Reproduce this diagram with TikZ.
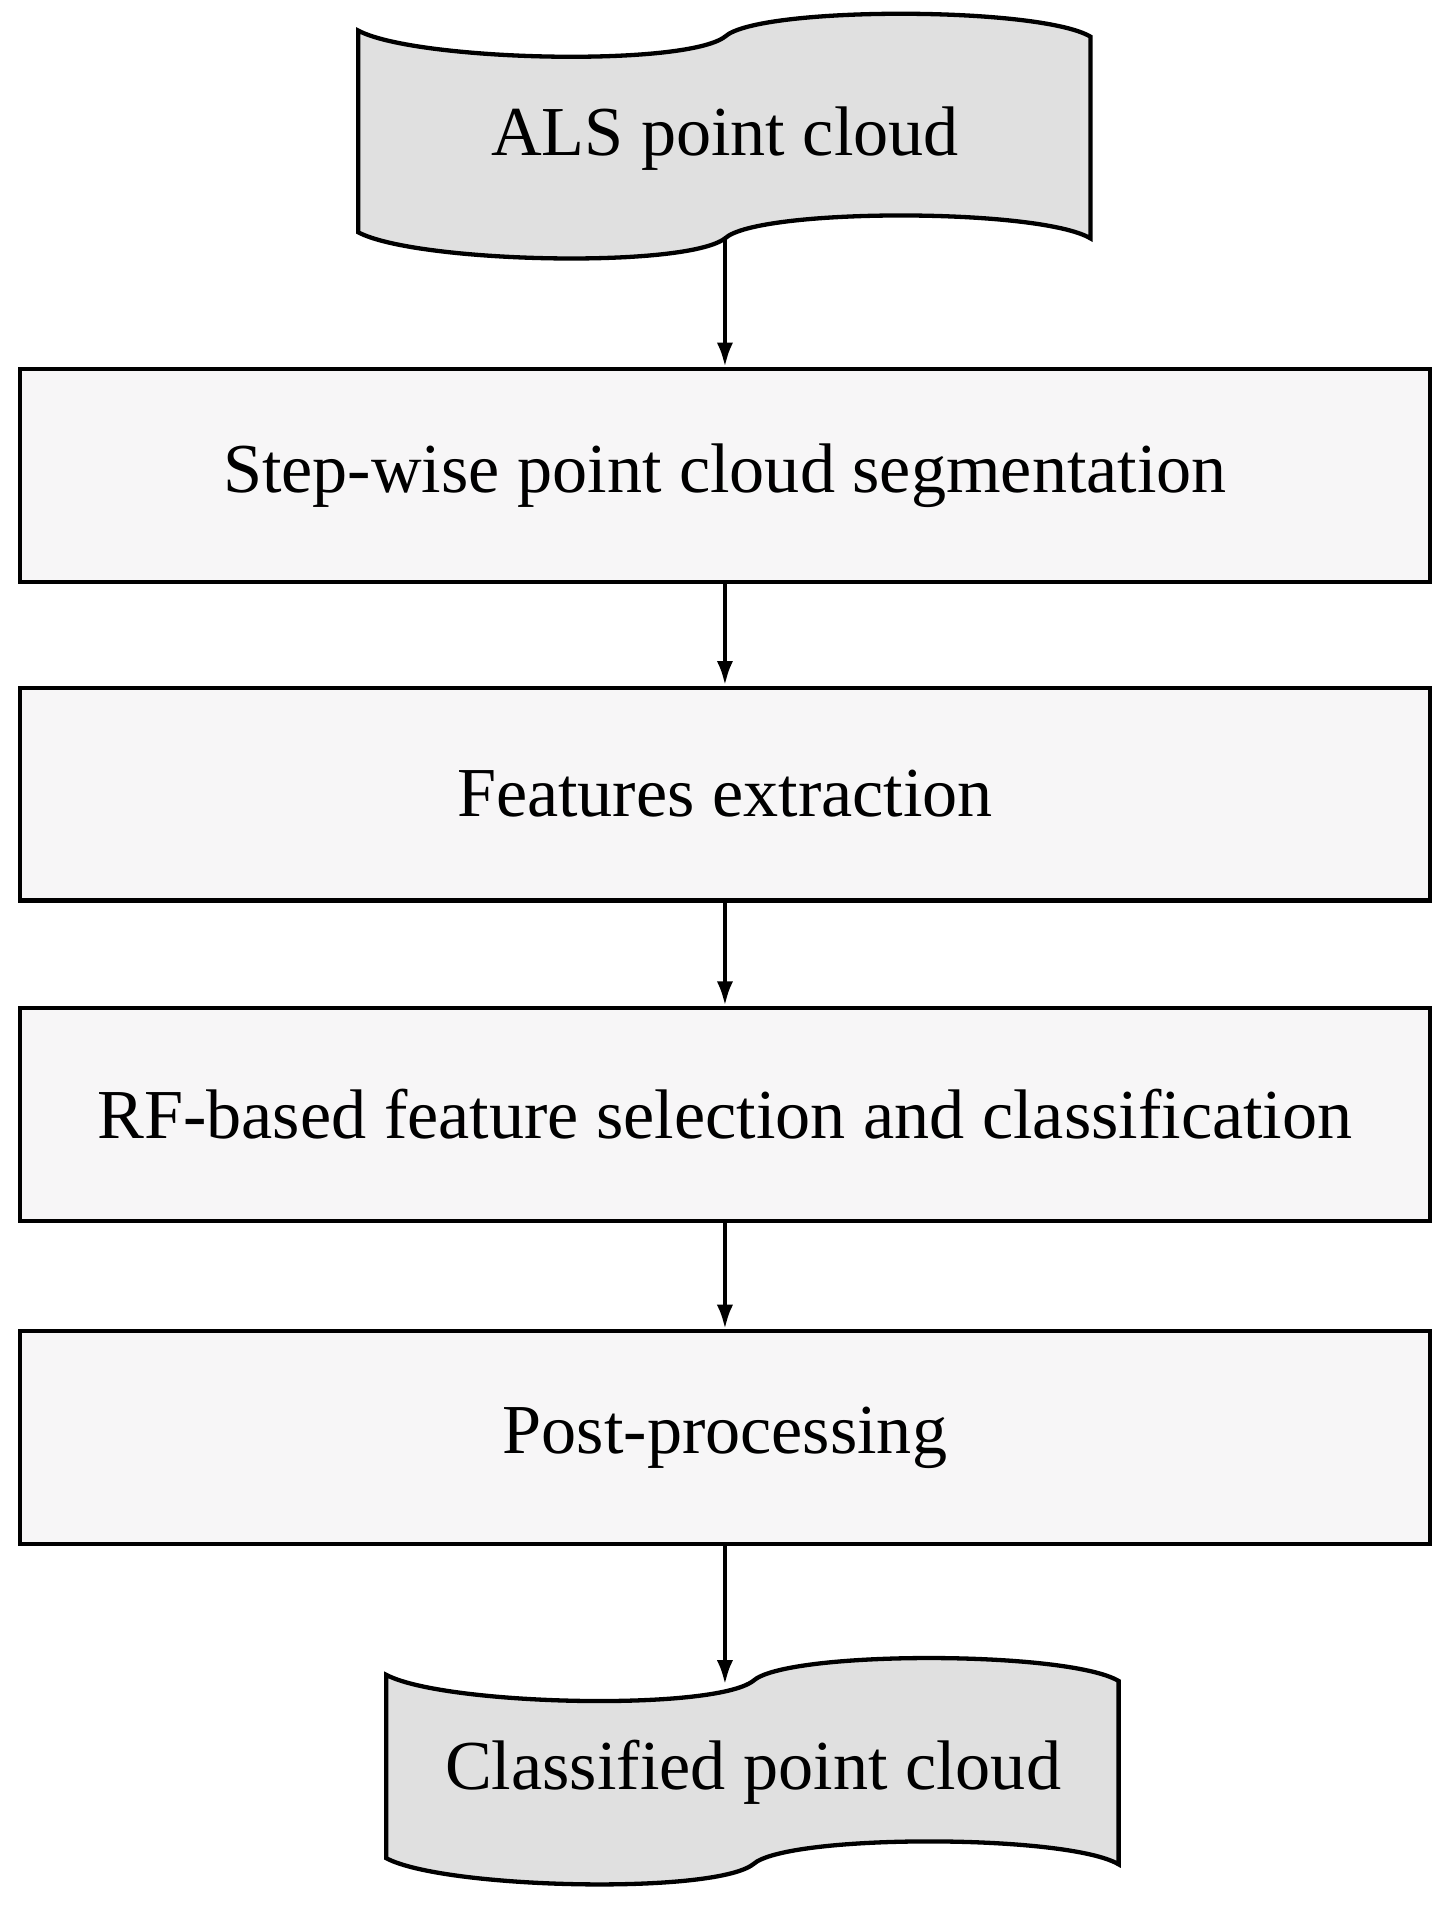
\documentclass[tikz,border=0pt]{standalone}
\usepackage{fontspec}
\setmainfont{Liberation Serif}
\usetikzlibrary{positioning,arrows.meta}
\definecolor{docgray}{RGB}{224,224,224}
\definecolor{boxgray}{RGB}{247,246,247}
\tikzset{
  procbox/.style={draw, line width=3pt, fill=boxgray, minimum width=1153*0.3mm, minimum height=174*0.3mm, font=\fontsize{49}{56}\selectfont},
  flow/.style={line width=3pt, -{Latex[length=6mm,width=4mm]}},
  doc/.style={draw, line width=3pt, fill=docgray}
}
\begin{document}
\begin{tikzpicture}[x=0.3mm,y=-0.3mm]
\useasboundingbox (0,0) rectangle (1190,1573);
%		input document
\draw[doc] (293,25) .. controls (340,50) and (560,55) .. (593,30)
  .. controls (620,5) and (850,5) .. (892,30) -- (892,195)
  .. controls (850,170) and (620,170) .. (593,195)
  .. controls (560,220) and (340,215) .. (293,190) -- cycle;
\node[font=\fontsize{49}{56}\selectfont] (als) at (593,113) {ALS point cloud};
\coordinate (alsout) at (593,195);
%		steps
\node[procbox] (seg) at (593,389) {Step-wise point cloud segmentation};
\node[procbox] (feat) at (593,649.5) {Features extraction};
\node[procbox] (rf) at (593,911.5) {RF-based feature selection and classification};
\node[procbox] (post) at (593,1176) {Post-processing};
%		output document
\draw[doc] (316,1370) .. controls (363,1395) and (583,1400) .. (616,1375)
  .. controls (643,1350) and (873,1350) .. (915,1375) -- (915,1525)
  .. controls (873,1500) and (643,1500) .. (616,1525)
  .. controls (583,1550) and (363,1545) .. (316,1520) -- cycle;
\node[font=\fontsize{49}{56}\selectfont] (cls) at (616,1450) {Classified point cloud};
\coordinate (clsin) at (593,1378);
%		arrows
\draw[flow] (alsout) -- (seg);
\draw[flow] (seg) -- (feat);
\draw[flow] (feat) -- (rf);
\draw[flow] (rf) -- (post);
\draw[flow] (post) -- (clsin);
\end{tikzpicture}
\end{document}
